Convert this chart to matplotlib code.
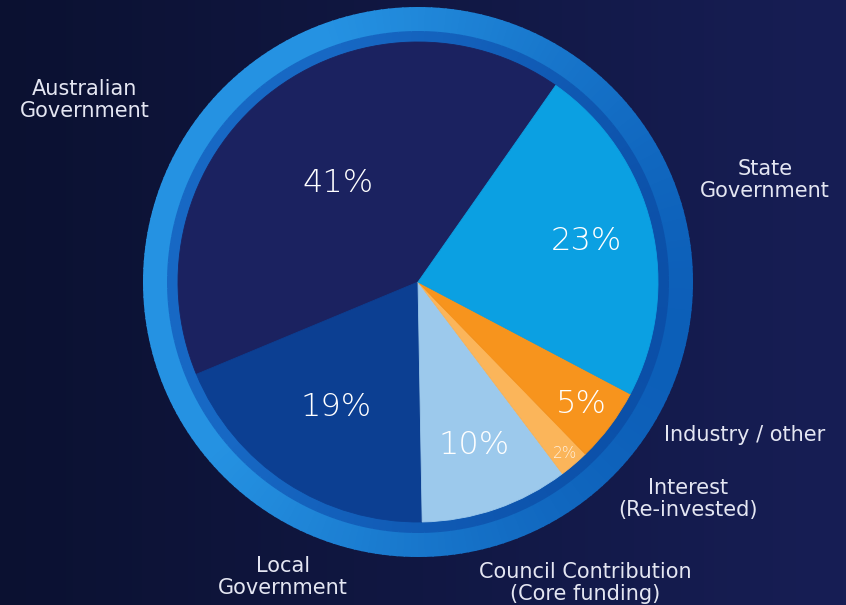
import matplotlib.pyplot as plt
import numpy as np
from matplotlib.patches import Wedge
from matplotlib.colors import to_rgb

# funding sources, counter-clockwise from the top-right split line
sources = ["Australian\nGovernment", "Local\nGovernment", "Council Contribution\n(Core funding)",
           "Interest\n(Re-invested)", "Industry / other", "State\nGovernment"]
shares = [41, 19, 10, 2, 5, 23]
pct_labels = ["41%", "19%", "10%", "2%", "5%", "23%"]
colors = ["#1b2260", "#0c3f92", "#9cc9ec", "#fbb55a", "#f7941d", "#0ba0e2"]

W, H = 846, 605
fig = plt.figure(figsize=(W / 100, H / 100), dpi=100)
ax = fig.add_axes([0, 0, 1, 1])

# background gradient (darker left -> lighter right)
grad = np.linspace(0, 1, 256).reshape(1, -1)
left, right = np.array(to_rgb("#0b1131")), np.array(to_rgb("#171e55"))
bg = left + (right - left) * grad[..., None]
ax.imshow(bg, extent=[0, W, 0, H], aspect="auto", zorder=0)

cx, cy, R = 418, H - 282, 240

# decorative ring with a soft angular shading
light, dark = np.array(to_rgb("#2592e2")), np.array(to_rgb("#0b5cb6"))
inner_l, inner_d = np.array(to_rgb("#1768c4")), np.array(to_rgb("#0a4ea6"))
n = 240
for i in range(n):
    a0 = 360 * i / n
    am = np.radians(a0 + 180 / n)
    t = np.clip(0.65 + 0.6 * np.cos(am - np.radians(165)), 0, 1)  # light on the left
    c_out = dark + (light - dark) * t
    c_in = inner_d + (inner_l - inner_d) * t
    ax.add_patch(Wedge((cx, cy), 275, a0, a0 + 360 / n + 0.3, width=25, color=c_out, lw=0, zorder=1))
    ax.add_patch(Wedge((cx, cy), 251, a0, a0 + 360 / n + 0.3, width=12, color=c_in, lw=0, zorder=1))

wedges, _ = ax.pie(shares, colors=colors, startangle=55, counterclock=True,
                   center=(cx, cy), radius=R, frame=True,
                   wedgeprops=dict(linewidth=0.6, zorder=2))
for w, c in zip(wedges, colors):
    w.set_edgecolor(c)

font = "DejaVu Sans"
txt = "#e4e6f2"

# percentage labels, placed along each wedge's mid angle
pct_r = [0.53, 0.62, 0.72, 0.94, 0.85, 0.72]
pct_size = [23, 23, 23, 11, 23, 23]
cum = 55
for share, lab, r, s in zip(shares, pct_labels, pct_r, pct_size):
    mid = np.radians(cum + share * 3.6 / 2)
    cum += share * 3.6
    ax.text(cx + R * r * np.cos(mid), cy + R * r * np.sin(mid), lab,
            ha="center", va="center", fontsize=s, color="white", family=font,
            weight="light", zorder=3, alpha=0.8 if s < 15 else 1)

# category labels outside the ring
label_pos = [(85, H - 100), (283, H - 577), (585, H - 583), (688, H - 499), (745, H - 435), (765, H - 180)]
for name, (x, y) in zip(sources, label_pos):
    ax.text(x, y, name, ha="center", va="center", fontsize=15, color=txt,
            family=font, linespacing=1.12, zorder=3)

ax.set_xlim(0, W)
ax.set_ylim(0, H)
ax.set_aspect("auto")
ax.axis("off")

fig.savefig("out.png", dpi=100)
